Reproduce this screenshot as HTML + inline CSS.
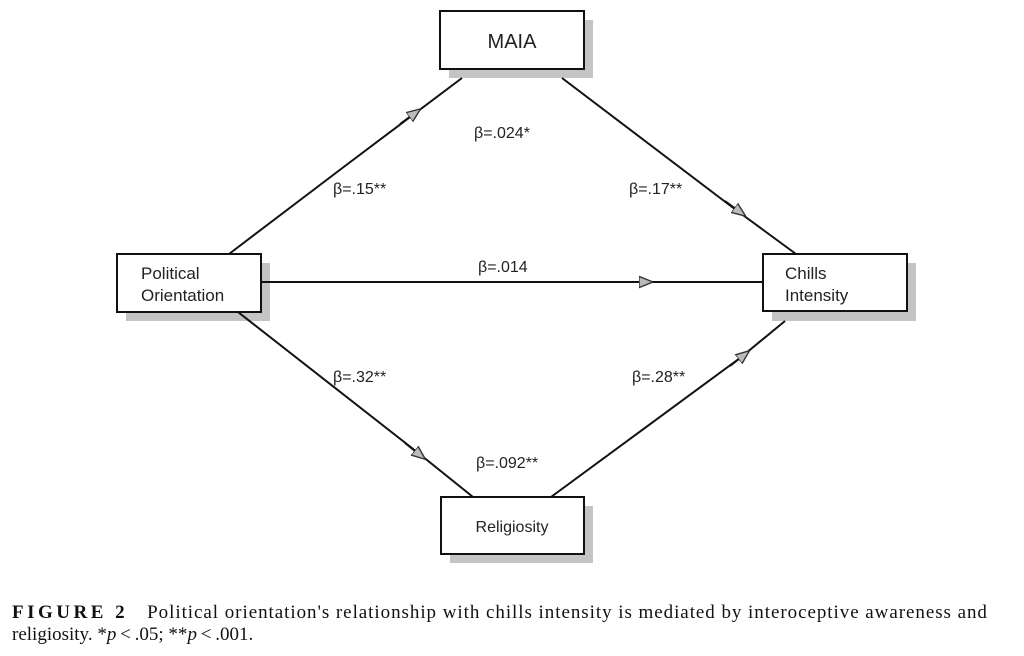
<!DOCTYPE html>
<html><head><meta charset="utf-8"><style>
body{margin:0;background:#fff;width:1024px;height:656px;overflow:hidden}
svg text{font-family:"Liberation Sans",sans-serif;fill:#222}
.cap{position:absolute;left:12px;top:602px;font-family:"Liberation Serif",serif;font-size:19px;line-height:22px;color:#111;white-space:nowrap}
</style></head><body>
<svg width="1024" height="656" style="position:absolute;left:0;top:0">
<defs><marker id="a" viewBox="0 0 10 10" refX="5" refY="5" markerWidth="14" markerHeight="14" markerUnits="userSpaceOnUse" orient="auto"><path d="M0,1 L10,5 L0,9 Z" fill="#bbb" stroke="#333" stroke-width="1"/></marker></defs>
<g fill="#c4c4c4">
<rect x="449" y="20" width="144" height="58"/>
<rect x="126" y="263" width="144" height="58"/>
<rect x="772" y="263" width="144" height="58"/>
<rect x="450" y="506" width="143" height="57"/>
</g>
<g stroke="#111" stroke-width="2" fill="none">
<path d="M229,254 L345,166 M345,166 L462,78"/>
<path d="M562,78 L736,210 M736,210 L796,254"/>
<path d="M261,282 L645,282 M645,282 L763,282"/>
<path d="M238,312 L417,452 M417,452 L473,497"/>
<path d="M551,497 L740,358 M740,358 L785,321"/>
</g>
<g stroke="none" fill="none">
<path d="M400,124 L415,113" stroke="#111" stroke-width="2" marker-end="url(#a)"/>
<path d="M725,201 L740,212" stroke="#111" stroke-width="2" marker-end="url(#a)"/>
<path d="M630,282 L646,282" stroke="#111" stroke-width="2" marker-end="url(#a)"/>
<path d="M405,443 L420,455" stroke="#111" stroke-width="2" marker-end="url(#a)"/>
<path d="M730,366 L744,355" stroke="#111" stroke-width="2" marker-end="url(#a)"/>
</g>
<g fill="#fff" stroke="#111" stroke-width="2">
<rect x="440" y="11" width="144" height="58"/>
<rect x="117" y="254" width="144" height="58"/>
<rect x="763" y="254" width="144" height="57"/>
<rect x="441" y="497" width="143" height="57"/>
</g>
<text x="512" y="48" font-size="20" text-anchor="middle">MAIA</text>
<text x="141" y="279" font-size="17">Political</text>
<text x="141" y="301" font-size="17">Orientation</text>
<text x="785" y="279" font-size="17">Chills</text>
<text x="785" y="301" font-size="17">Intensity</text>
<text x="512" y="532" font-size="16" text-anchor="middle">Religiosity</text>
<g font-size="16">
<text x="474" y="138">β=.024*</text>
<text x="333" y="194">β=.15**</text>
<text x="629" y="194">β=.17**</text>
<text x="478" y="272">β=.014</text>
<text x="333" y="382">β=.32**</text>
<text x="632" y="382">β=.28**</text>
<text x="476" y="468">β=.092**</text>
</g>
</svg>
<div class="cap"><b style="letter-spacing:3.5px">FIGURE 2</b>&nbsp;&nbsp;&nbsp; <span style="letter-spacing:0.95px">Political orientation's relationship with chills intensity is mediated by interoceptive awareness and</span><br>religiosity. *<i>p</i>&thinsp;&lt;&thinsp;.05; **<i>p</i>&thinsp;&lt;&thinsp;.001.</div>
</body></html>
